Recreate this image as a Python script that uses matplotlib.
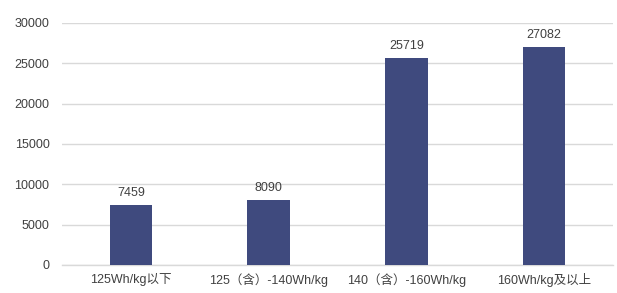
import matplotlib.pyplot as plt

plt.rcParams['font.family'] = ['Liberation Sans', 'Noto Sans CJK SC', 'DejaVu Sans']

# 数据
categories = ['125Wh/kg以下', '125（含）-140Wh/kg', '140（含）-160Wh/kg', '160Wh/kg及以上']
values = [7459, 8090, 25719, 27082]
yticks = [0, 5000, 10000, 15000, 20000, 25000, 30000]

bar_color = '#3f4a7e'
text_color = '#404040'
grid_color = '#d9d9d9'

fig = plt.figure(figsize=(6.17, 2.93), dpi=100)
ax = fig.add_axes([0.1005, 0.0956, 0.893, 0.826])

x = range(len(categories))
bars = ax.bar(x, values, width=0.31, color=bar_color, zorder=3)
for xi, v in zip(x, values):
    ax.annotate(str(v), (xi, v), xytext=(0, 4), textcoords='offset points',
                ha='center', va='bottom', fontsize=9, color=text_color)

ax.set_xlim(-0.5, len(categories) - 0.5)
ax.set_ylim(0, 30000)
ax.set_yticks(yticks)
ax.set_xticks(list(x))
ax.set_xticklabels(categories)
ax.tick_params(axis='both', length=0, labelsize=9, colors=text_color)
ax.tick_params(axis='y', pad=9)
ax.tick_params(axis='x', pad=6)
ax.grid(axis='y', color=grid_color, linewidth=1, zorder=0)
for s in ['top', 'right', 'left']:
    ax.spines[s].set_visible(False)
ax.spines['bottom'].set_color(grid_color)
ax.spines['bottom'].set_linewidth(1)

fig.savefig('out.png', dpi=100)
